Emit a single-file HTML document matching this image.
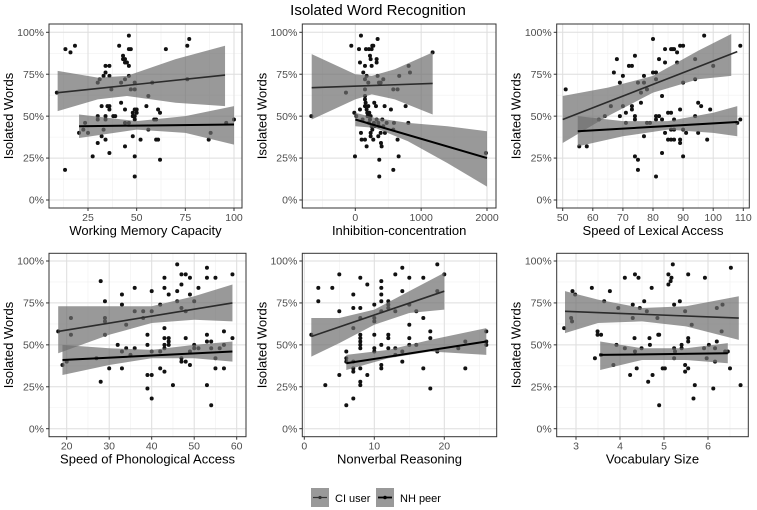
<!DOCTYPE html>
<html><head><meta charset="utf-8"><style>
body{margin:0;background:#fff}
svg{display:block;font-family:"Liberation Sans",Arial,sans-serif}
</style></head><body>
<svg id="chart" width="757" height="510" viewBox="0 0 757 510" xmlns="http://www.w3.org/2000/svg">
<text x="378" y="15" text-anchor="middle" font-size="15" fill="#000">Isolated Word Recognition</text>
<g id="panels"></g>
<g>
<g>
<rect x="311" y="488" width="18" height="19" fill="#999"/>
<line x1="313" y1="497.5" x2="327" y2="497.5" stroke="#333" stroke-width="1.2"/>
<circle cx="320" cy="497.5" r="1.6" fill="#333"/>
<text x="335" y="502" font-size="11" fill="#000">CI user</text>
</g>
<g>
<rect x="376" y="488" width="18" height="19" fill="#999"/>
<line x1="378" y1="497.5" x2="392" y2="497.5" stroke="#000" stroke-width="1.8"/>
<circle cx="385" cy="497.5" r="1.8" fill="#000"/>
<text x="400" y="502" font-size="11" fill="#000">NH peer</text>
</g>
</g>
</svg>
<script>
// ---------- Data ----------
const yTicks = [0,25,50,75,100];
const yTickLabels = ["0%","25%","50%","75%","100%"];

// Panel 1: Working Memory Capacity
const p1Ticks = [25,50,75,100];
const p1Points = [[13.4,90],[16,88],[18.3,92],[13.2,18],[20.4,40],[23.5,46],[22.6,42],[25,40],[27.4,26],[30,50],[30,48],[30,34],[30,70],[31,72],[32,56],[32,38],[33,74],[34,76],[34,80],[36,80],[33,42],[34,50],[34,48],[34,36],[35,56],[36,56],[36,54],[36,28],[36,74],[37,66],[38,50],[39,50],[41,92],[42,58],[42,70],[43,86],[43,84],[44,84],[44,82],[45,82],[46,80],[46,98],[46,90],[47,90],[44,72],[44,54],[44,32],[44,46],[46,46],[46,74],[47,66],[48,38],[48,50],[48,52],[49,54],[49,50],[49,48],[49,14],[49,26],[49,70],[49,66],[50,52],[50,54],[52,36],[55,56],[56,62],[56,42],[58,70],[59,48],[60,36],[60,48],[61,36],[61,54],[62,52],[62,24],[65,90],[77,96],[76,92],[76,72],[87,36],[88,40],[96,46],[100,48],[9,64]];
const p1CiLine = [[9.4,64],[95.4,74.5]];
const p1CiBand = [[9.4,53,77],[30,60,73],[45,62,74],[70,58,84],[95.4,56,92]];
const p1NhLine = [[20.4,44],[100,45]];
const p1NhBand = [[20.4,37,51],[50,42,47],[75,40,50],[100,33,56]];

// Panel 2: Inhibition-concentration
const p2Ticks = [0,1000,2000];
const p2Points = [[-668,50],[-142,64],[-61,92],[86,98],[56,90],[71,82],[147,80],[162,90],[207,90],[248,90],[258,92],[273,92],[339,96],[324,84],[324,82],[223,86],[233,84],[248,80],[121,76],[147,72],[197,70],[172,74],[339,74],[359,70],[385,70],[425,72],[147,66],[577,66],[642,66],[667,74],[810,80],[830,76],[1174,88],[764,56],[805,46],[445,56],[541,54],[587,46],[577,42],[642,36],[658,26],[577,18],[364,14],[364,24],[-5,26],[-15,52],[15,50],[71,54],[111,48],[147,56],[172,54],[147,60],[147,62],[157,58],[182,52],[187,50],[197,56],[207,46],[223,48],[233,50],[248,44],[258,42],[283,46],[298,44],[324,48],[349,46],[359,44],[385,40],[410,48],[425,44],[450,40],[476,46],[86,40],[96,36],[147,36],[172,32],[233,40],[233,38],[273,36],[349,38],[390,34],[400,32],[288,58],[314,56],[212,52],[1983,28]];
const p2CiLine = [[-662,67],[1175,69.5]];
const p2CiBand = [[-662,48,87],[0,60,75],[250,63,74],[600,60,78],[1175,51,88]];
const p2NhLine = [[0,48],[2000,25]];
const p2NhBand = [[0,44,52],[300,43,49],[800,35,46],[1400,22,44],[2000,8,41]];

// Panel 3: Speed of Lexical Access
const p3Ticks = [50,60,70,80,90,100,110];
const p3Points = [[51,66],[55.5,32],[58,32],[62,48],[64,50],[66,56],[67,76],[68,84],[69,70],[69,50],[70,74],[70,56],[71,52],[71,46],[72,80],[73,80],[73,54],[73,56],[74,50],[74,48],[74,26],[75,24],[75,18],[74,86],[75,70],[76,58],[76,64],[77,74],[77,70],[77,38],[78,66],[78,46],[79,46],[80,96],[80,76],[81,76],[81,50],[81,48],[81,14],[81,72],[82,84],[82,50],[83,62],[83,48],[83,28],[84,90],[84,82],[84,40],[85,36],[85,52],[86,36],[86,52],[86,90],[86.5,90],[87,90],[86,42],[87,42],[87,36],[87,48],[88,88],[88,82],[89,54],[89,36],[89,34],[89,92],[90,92],[90,70],[90,26],[90,42],[91,40],[94,84],[94,72],[94,50],[95,40],[95,58],[96,56],[97,98],[98,36],[99,54],[100,80],[108,46],[109,48],[109,92]];
const p3CiLine = [[50,48],[108,88.5]];
const p3CiBand = [[50,34,62],[65,50,67],[80,64,74],[95,72,89],[106,74,99]];
const p3NhLine = [[55,41],[108,46.5]];
const p3NhBand = [[55,32,50],[70,38,47],[85,42,47],[100,40,52],[108,38,56]];

// Panel 4: Speed of Phonological Access
const p4Ticks = [20,30,40,50,60];
const p4Points = [[18,58],[19,38],[20,40],[21,66],[21,56],[28,88],[28,28],[29,76],[29,66],[29,64],[29,56],[27,42],[30,36],[32,50],[33,80],[33,74],[33,46],[33,36],[34,62],[34,48],[35,44],[36,84],[36,70],[36,48],[38,70],[38,66],[39,56],[39,50],[39,32],[39,24],[40,82],[40,70],[40,46],[40,32],[40,18],[42,74],[42,36],[42,46],[43,90],[43,84],[43,60],[43,54],[43,48],[43,50],[43,34],[44,54],[44,52],[44,80],[44,50],[45,26],[46,98],[46,82],[46,76],[47,92],[47,86],[47,72],[47,42],[47,40],[48,92],[48,70],[48,54],[48,40],[49,90],[49,80],[49,46],[49,38],[50,76],[50,50],[50,48],[51,84],[51,48],[53,96],[53,90],[53,52],[53,56],[53,26],[54,52],[54,48],[54,14],[55,90],[55,42],[55,36],[56,48],[57,58],[57,50],[57,36],[59,92],[59,54]];
const p4CiLine = [[18,58],[59,75]];
const p4CiBand = [[18,45,73],[30,56,73],[40,63,73],[50,65,79],[59,64,86]];
const p4NhLine = [[19,41],[59,46]];
const p4NhBand = [[19,32,50],[30,38,48],[40,42,47],[50,42,50],[59,40,52]];

// Panel 5: Nonverbal Reasoning
const p5Ticks = [0,10,20];
const p5Points = [[1,56],[2,84],[2,76],[3,26],[4,84],[5,92],[5,70],[5,32],[6,42],[6,14],[6,46],[6,40],[7,80],[7,72],[7,60],[7,40],[7,36],[7,34],[7,18],[8,90],[8,72],[8,66],[8,56],[8,54],[8,52],[8,50],[8,48],[8,36],[8,28],[8,26],[9,86],[9,32],[10,74],[10,66],[10,64],[10,56],[10,48],[10,46],[11,88],[11,84],[11,80],[11,76],[11,70],[11,50],[11,38],[11,36],[12,76],[12,74],[12,72],[12,56],[12,54],[12,48],[13,92],[13,70],[13,48],[13,44],[14,96],[14,82],[14,46],[14,40],[15,90],[15,74],[15,62],[15,54],[15,50],[16,70],[16,50],[17,90],[17,66],[17,36],[18,58],[18,54],[18,24],[19,98],[19,82],[19,46],[20,92],[22,48],[23,52],[23,36],[26,58],[26,52],[26,50]];
const p5CiLine = [[1,55],[20,82]];
const p5CiBand = [[1,43,66],[5,51,66],[10,62,71],[15,69,82],[20,71,93]];
const p5NhLine = [[6,39],[26,52]];
const p5NhBand = [[6,35,44],[12,42,47],[18,46,53],[26,44,60]];

// Panel 6: Vocabulary Size
const p6Ticks = [3,4,5,6];
const p6Points = [[2.73,60],[2.89,66],[2.91,64],[2.92,82],[2.98,80],[3.36,84],[3.43,42],[3.49,58],[3.49,56],[3.57,56],[3.57,44],[3.64,76],[3.77,82],[3.85,38],[3.92,50],[3.96,72],[4.11,90],[4.11,48],[4.23,32],[4.29,74],[4.29,66],[4.33,54],[4.34,92],[4.42,90],[4.34,46],[4.38,36],[4.45,72],[4.49,48],[4.55,76],[4.61,70],[4.64,28],[4.67,54],[4.68,50],[4.72,84],[4.74,32],[4.85,66],[4.87,56],[4.89,14],[4.89,56],[4.97,36],[5.02,36],[5.1,86],[5.1,92],[5.15,88],[5.17,90],[5.2,98],[5.23,74],[5.23,48],[5.23,42],[5.25,46],[5.36,76],[5.4,48],[5.4,50],[5.48,70],[5.48,38],[5.48,34],[5.55,92],[5.55,54],[5.55,52],[5.55,36],[5.63,62],[5.7,26],[5.67,18],[5.91,48],[5.93,90],[5.97,42],[6.02,50],[6.16,40],[6.16,48],[6.2,52],[6.2,72],[6.12,24],[6.31,58],[6.33,74],[6.39,46],[6.45,46],[6.5,36],[6.52,96],[6.74,26]];
const p6CiLine = [[2.75,70],[6.7,66]];
const p6CiBand = [[2.75,57,82],[3.5,63,77],[4.5,64,72],[5.5,61,73],[6.7,53,79]];
const p6NhLine = [[3.55,44],[6.45,45]];
const p6NhBand = [[3.55,35,52],[4.5,41,48],[5.5,41,48],[6.45,39,51]];

// ---------- Layout ----------
const NS = "http://www.w3.org/2000/svg";
const panels = [
 {name:"working-memory",title:"Working Memory Capacity",ticks:p1Ticks,pts:p1Points,ci:p1CiLine,ciB:p1CiBand,nh:p1NhLine,nhB:p1NhBand,L:49,R:242,T:24,B:208,y0:200,y100:32.3,xa:25,pa:88,xb:100,pb:234,minor:12.5},
 {name:"inhibition",title:"Inhibition-concentration",ticks:p2Ticks,pts:p2Points,ci:p2CiLine,ciB:p2CiBand,nh:p2NhLine,nhB:p2NhBand,L:302.3,R:496,T:24,B:208,y0:200,y100:32.3,xa:0,pa:355.3,xb:2000,pb:487,minor:500},
 {name:"lexical-access",title:"Speed of Lexical Access",ticks:p3Ticks,pts:p3Points,ci:p3CiLine,ciB:p3CiBand,nh:p3NhLine,nhB:p3NhBand,L:556.7,R:749.3,T:24,B:208,y0:200,y100:32.3,xa:50,pa:562.7,xb:110,pb:743.3,minor:5},
 {name:"phonological-access",title:"Speed of Phonological Access",ticks:p4Ticks,pts:p4Points,ci:p4CiLine,ciB:p4CiBand,nh:p4NhLine,nhB:p4NhBand,L:49,R:246,T:253.3,B:436.7,y0:428.7,y100:261,xa:20,pa:66.7,xb:60,pb:236.7,minor:5},
 {name:"nonverbal-reasoning",title:"Nonverbal Reasoning",ticks:p5Ticks,pts:p5Points,ci:p5CiLine,ciB:p5CiBand,nh:p5NhLine,nhB:p5NhBand,L:302.3,R:496.7,T:253.3,B:436.7,y0:428.7,y100:261,xa:0,pa:304.3,xb:20,pb:444.3,minor:5},
 {name:"vocabulary-size",title:"Vocabulary Size",ticks:p6Ticks,pts:p6Points,ci:p6CiLine,ciB:p6CiBand,nh:p6NhLine,nhB:p6NhBand,L:556.7,R:748.3,T:253.3,B:436.7,y0:428.7,y100:261,xa:3,pa:576,xb:6,pb:708,minor:0.5}
];
function mk(tag, attrs, parent){const e=document.createElementNS(NS,tag);for(const k in attrs)e.setAttribute(k,attrs[k]);parent.appendChild(e);return e;}
const root=document.getElementById('panels');
panels.forEach(p=>{
 const sx=v=>p.pa+(v-p.xa)*(p.pb-p.pa)/(p.xb-p.xa);
 const sy=v=>p.y0-(v)*(p.y0-p.y100)/100;
 const g=mk('g',{},root);
 
 
 mk('rect',{x:p.L,y:p.T,width:p.R-p.L,height:p.B-p.T,fill:'#fff'},g);
 // minor grid
 const step=p.ticks.length>1?(p.ticks[1]-p.ticks[0]):1;
 const vmin=p.xa+(p.L-p.pa)*(p.xb-p.xa)/(p.pb-p.pa), vmax=p.xa+(p.R-p.pa)*(p.xb-p.xa)/(p.pb-p.pa);
 for(let v=p.ticks[0]-step/2; v<=vmax; v+=step){ if(v<vmin) continue; const x=sx(v);
   mk('line',{x1:x,x2:x,y1:p.T,y2:p.B,stroke:'#f0f0f0','stroke-width':0.6},g);}
 for(let k=0;k<yTicks.length-1;k++){const y=sy((yTicks[k]+yTicks[k+1])/2);
   mk('line',{x1:p.L,x2:p.R,y1:y,y2:y,stroke:'#f0f0f0','stroke-width':0.6},g);}
 // major grid
 p.ticks.forEach(t=>{const x=sx(t); if(x<p.L||x>p.R) return;
   mk('line',{x1:x,x2:x,y1:p.T,y2:p.B,stroke:'#dedede','stroke-width':1},g);
   mk('line',{x1:x,x2:x,y1:p.B,y2:p.B+3,stroke:'#333','stroke-width':1},g);
   const t2=mk('text',{x:x,y:p.B+13,'text-anchor':'middle','font-size':'10.5',fill:'#4d4d4d'},g); t2.textContent=t;
   
   
 });
 yTicks.forEach((t,i)=>{const y=sy(t);
   mk('line',{x1:p.L,x2:p.R,y1:y,y2:y,stroke:'#dedede','stroke-width':1},g);
   mk('line',{x1:p.L-3,x2:p.L,y1:y,y2:y,stroke:'#333','stroke-width':1},g);
   const t2=mk('text',{x:p.L-5,y:y+3.6,'text-anchor':'end','font-size':'10.5',fill:'#4d4d4d'},g); t2.textContent=yTickLabels[i];
   
   
 });
 // points
 p.pts.forEach(d=>{const c=mk('circle',{cx:sx(d[0]),cy:sy(d[1]),r:2,fill:'#111'},g);
   
   });
 // bands
 function band(b,nm){const up=b.map(d=>sx(d[0])+','+sy(d[2])), lo=b.slice().reverse().map(d=>sx(d[0])+','+sy(d[1]));
   const e=mk('polygon',{points:up.concat(lo).join(' '),fill:'#6e6e6e','fill-opacity':0.7},g);
   
   }
 band(p.ciB,'ci-user-confidence-band'); band(p.nhB,'nh-peer-confidence-band');
 const l1=mk('line',{x1:sx(p.ci[0][0]),y1:sy(p.ci[0][1]),x2:sx(p.ci[1][0]),y2:sy(p.ci[1][1]),stroke:'#2b2b2b','stroke-width':1.6},g);
 
 
 const l2=mk('line',{x1:sx(p.nh[0][0]),y1:sy(p.nh[0][1]),x2:sx(p.nh[1][0]),y2:sy(p.nh[1][1]),stroke:'#000','stroke-width':2},g);
 
 
 mk('rect',{x:p.L,y:p.T,width:p.R-p.L,height:p.B-p.T,fill:'none',stroke:'#333','stroke-width':1},g);
 const xt=mk('text',{x:(p.L+p.R)/2,y:p.B+27,'text-anchor':'middle','font-size':'13',fill:'#000'},g); xt.textContent=p.title;
 
 
 const yx=p.L-36, yy=(p.T+p.B)/2;
 const yt=mk('text',{x:yx,y:yy,'text-anchor':'middle','font-size':'13',fill:'#000',transform:'rotate(-90 '+yx+' '+yy+')'},g); yt.textContent='Isolated Words';
 
 
});
</script>
</body></html>
